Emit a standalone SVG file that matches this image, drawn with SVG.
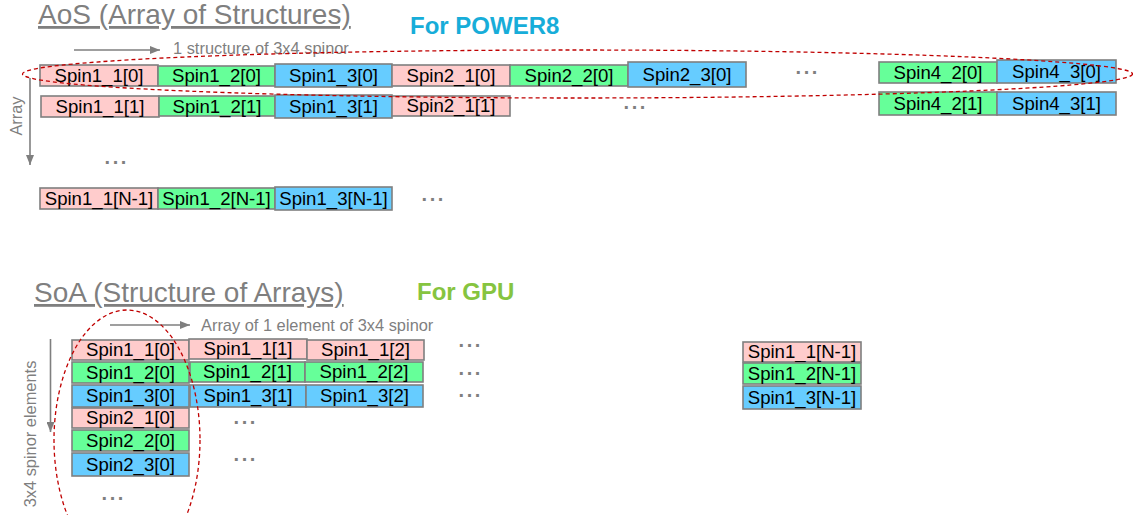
<svg xmlns="http://www.w3.org/2000/svg" width="1133" height="515" viewBox="0 0 1133 515">
  <style>
    .box rect { stroke: #7f7f7f; stroke-width: 1.6; }
    .p rect { fill: #ffcccc; }
    .g rect { fill: #66ff99; }
    .b rect { fill: #66ccff; }
    .box text { font-family: "Liberation Sans", Arial, sans-serif; font-size: 18.6px; fill: #000; text-anchor: middle; }
    .title { font-family: "Liberation Sans", Arial, sans-serif; font-size: 28px; fill: #7f7f7f; text-decoration: underline; }
    .tag { font-family: "Liberation Sans", Arial, sans-serif; font-size: 24px; font-weight: bold; }
    .note { font-family: "Liberation Sans", Arial, sans-serif; font-size: 16.4px; fill: #7f7f7f; }
    .dots { font-family: "Liberation Sans", Arial, sans-serif; font-size: 20px; font-weight: bold; letter-spacing: 2.6px; fill: #7f7f7f; }
    .arrow { stroke: #7f7f7f; stroke-width: 1.6; fill: none; marker-end: url(#head); }
    .group { fill: none; stroke: #c00000; stroke-width: 1.3; stroke-dasharray: 4 3; }
  </style>
  <defs>
    <marker id="head" viewBox="0 0 10 8" refX="10" refY="4" markerWidth="10" markerHeight="8" markerUnits="userSpaceOnUse" orient="auto">
      <path d="M0,0 L10,4 L0,8 Z" fill="#7f7f7f"/>
    </marker>
  </defs>

  <!-- headings -->
  <text class="title" x="38" y="24">AoS (Array of Structures)</text>
  <text class="tag" x="410" y="34" fill="#17add9" font-size="24.6">For POWER8</text>
  <text class="title" x="34" y="302">SoA (Structure of Arrays)</text>
  <text class="tag" x="417" y="300" fill="#86c440">For GPU</text>

  <!-- axis labels -->
  <text class="note" x="173" y="54">1 structure of 3x4 spinor</text>
  <text class="note" x="22" y="116" text-anchor="middle" font-size="17" transform="rotate(-90 22 116)">Array</text>
  <text class="note" x="201" y="331">Array of 1 element of 3x4 spinor</text>
  <text class="note" x="36" y="434" text-anchor="middle" transform="rotate(-90 36 434)">3x4 spinor elements</text>

  <!-- AoS layout -->
  <g id="aos-spin1_1-0" class="box p"><rect x="40" y="65" width="118" height="21"/><text x="99" y="82">Spin1_1[0]</text></g>
  <g id="aos-spin1_2-0" class="box g"><rect x="158" y="66" width="117" height="20"/><text x="216.5" y="82">Spin1_2[0]</text></g>
  <g id="aos-spin1_3-0" class="box b"><rect x="275" y="64" width="117" height="23"/><text x="333.5" y="82">Spin1_3[0]</text></g>
  <g id="aos-spin2_1-0" class="box p"><rect x="392" y="65" width="118" height="21"/><text x="451" y="82">Spin2_1[0]</text></g>
  <g id="aos-spin2_2-0" class="box g"><rect x="510" y="65" width="118" height="21"/><text x="569" y="82">Spin2_2[0]</text></g>
  <g id="aos-spin2_3-0" class="box b"><rect x="628" y="62" width="118" height="25"/><text x="687" y="81">Spin2_3[0]</text></g>
  <g id="aos-spin4_2-0" class="box g"><rect x="879" y="62" width="118" height="21"/><text x="938" y="79">Spin4_2[0]</text></g>
  <g id="aos-spin4_3-0" class="box b"><rect x="997" y="60" width="119" height="23"/><text x="1056.5" y="78">Spin4_3[0]</text></g>

  <g id="aos-spin1_1-1" class="box p"><rect x="41" y="96" width="118" height="21"/><text x="100" y="113">Spin1_1[1]</text></g>
  <g id="aos-spin1_2-1" class="box g"><rect x="159" y="96" width="116" height="20"/><text x="217" y="113">Spin1_2[1]</text></g>
  <g id="aos-spin1_3-1" class="box b"><rect x="275" y="95" width="117" height="23"/><text x="333.5" y="113">Spin1_3[1]</text></g>
  <g id="aos-spin2_1-1" class="box p"><rect x="392" y="96" width="118" height="20"/><text x="451" y="112">Spin2_1[1]</text></g>
  <g id="aos-spin4_2-1" class="box g"><rect x="879" y="92" width="118" height="23"/><text x="938" y="110">Spin4_2[1]</text></g>
  <g id="aos-spin4_3-1" class="box b"><rect x="997" y="92" width="119" height="23"/><text x="1056.5" y="110">Spin4_3[1]</text></g>

  <g id="aos-spin1_1-n" class="box p"><rect x="40" y="188" width="118" height="21"/><text x="99" y="205">Spin1_1[N-1]</text></g>
  <g id="aos-spin1_2-n" class="box g"><rect x="158" y="188" width="117" height="21"/><text x="216.5" y="205">Spin1_2[N-1]</text></g>
  <g id="aos-spin1_3-n" class="box b"><rect x="275" y="187" width="117" height="23"/><text x="333.5" y="205">Spin1_3[N-1]</text></g>

  <!-- SoA layout -->
  <g id="soa-spin1_1-0" class="box p"><rect x="72" y="340" width="117" height="20"/><text x="130.5" y="356">Spin1_1[0]</text></g>
  <g id="soa-spin1_1-1" class="box p"><rect x="189" y="339" width="118" height="20"/><text x="248" y="355">Spin1_1[1]</text></g>
  <g id="soa-spin1_1-2" class="box p"><rect x="307" y="340" width="117" height="20"/><text x="365.5" y="356">Spin1_1[2]</text></g>
  <g id="soa-spin1_2-0" class="box g"><rect x="72" y="362" width="117" height="21"/><text x="130.5" y="379">Spin1_2[0]</text></g>
  <g id="soa-spin1_2-1" class="box g"><rect x="190" y="362" width="115" height="20"/><text x="247.5" y="378">Spin1_2[1]</text></g>
  <g id="soa-spin1_2-2" class="box g"><rect x="305" y="362" width="118" height="20"/><text x="364" y="378">Spin1_2[2]</text></g>
  <g id="soa-spin1_3-0" class="box b"><rect x="72" y="385" width="117" height="22"/><text x="130.5" y="402">Spin1_3[0]</text></g>
  <g id="soa-spin1_3-1" class="box b"><rect x="190" y="385" width="116" height="22"/><text x="248" y="402">Spin1_3[1]</text></g>
  <g id="soa-spin1_3-2" class="box b"><rect x="306" y="385" width="117" height="22"/><text x="364.5" y="402">Spin1_3[2]</text></g>
  <g id="soa-spin2_1-0" class="box p"><rect x="72" y="408" width="117" height="20"/><text x="130.5" y="424">Spin2_1[0]</text></g>
  <g id="soa-spin2_2-0" class="box g"><rect x="72" y="430" width="117" height="21"/><text x="130.5" y="447">Spin2_2[0]</text></g>
  <g id="soa-spin2_3-0" class="box b"><rect x="72" y="453" width="117" height="23"/><text x="130.5" y="471">Spin2_3[0]</text></g>

  <g id="soa-spin1_1-n" class="box p"><rect x="743" y="342" width="118" height="20"/><text x="802" y="358">Spin1_1[N-1]</text></g>
  <g id="soa-spin1_2-n" class="box g"><rect x="743" y="363" width="118" height="21"/><text x="802" y="380">Spin1_2[N-1]</text></g>
  <g id="soa-spin1_3-n" class="box b"><rect x="743" y="386" width="118" height="23"/><text x="802" y="404">Spin1_3[N-1]</text></g>

  <!-- continuation marks -->
  <g id="ellipses">
    <text class="dots" x="795.5" y="74">...</text>
    <text class="dots" x="623.5" y="109">...</text>
    <text class="dots" x="104.5" y="164">...</text>
    <text class="dots" x="421.5" y="201">...</text>
    <text class="dots" x="458.5" y="347">...</text>
    <text class="dots" x="458.5" y="375">...</text>
    <text class="dots" x="458.5" y="397">...</text>
    <text class="dots" x="233.5" y="424">...</text>
    <text class="dots" x="233.5" y="461">...</text>
    <text class="dots" x="101.5" y="500">...</text>
  </g>

  <!-- direction arrows -->
  <g id="connectors">
    <line class="arrow" x1="74" y1="50" x2="160" y2="50"/>
    <line class="arrow" x1="30" y1="78" x2="30" y2="165"/>
    <line class="arrow" x1="110" y1="325" x2="190" y2="325"/>
    <line class="arrow" x1="50.5" y1="339" x2="50.5" y2="432"/>
  </g>

  <!-- grouping outlines -->
  <g id="groupings">
    <ellipse class="group" cx="577.5" cy="74" rx="555" ry="24"/>
    <ellipse class="group" cx="127" cy="440" rx="73" ry="130"/>
  </g>
</svg>
